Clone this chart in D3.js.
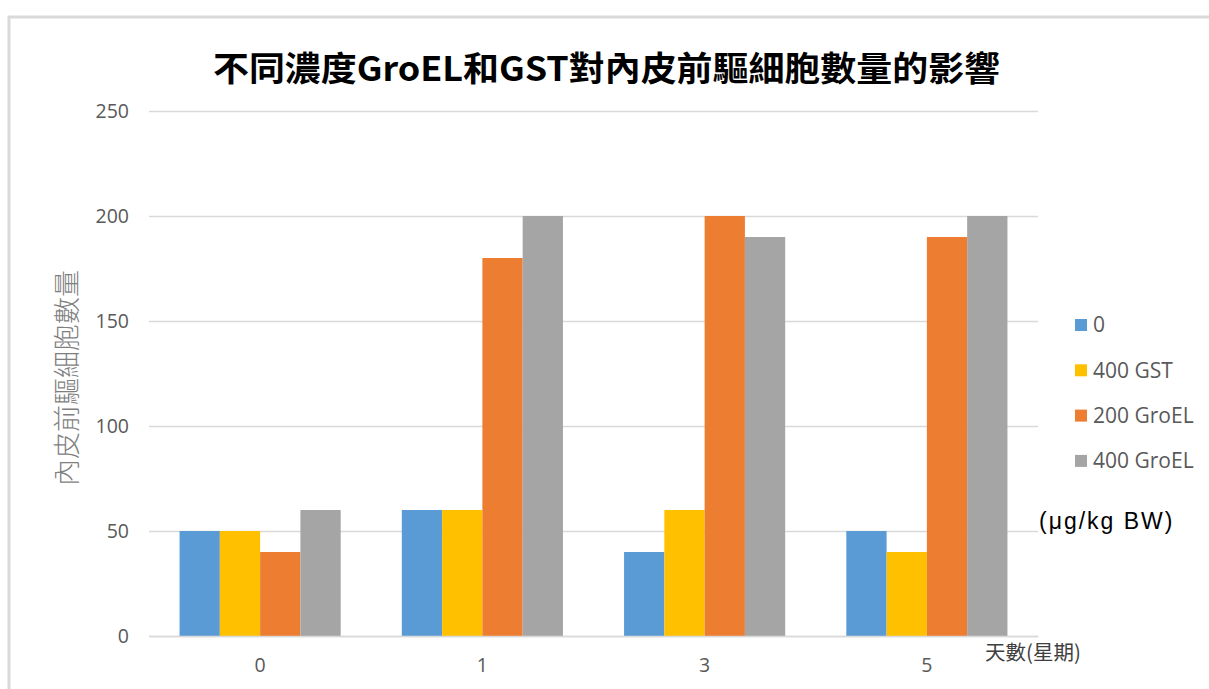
<!DOCTYPE html>
<html><head><meta charset="utf-8">
<script src="https://cdn.jsdelivr.net/npm/d3@7"></script>
<style>body{margin:0;background:#fff;} svg{display:block;}</style>
</head><body>
<script>
const categories = ["0", "1", "3", "5"];
const seriesNames = ["0", "400 GST", "200 GroEL", "400 GroEL"];
const seriesColors = ["#5B9BD5", "#FFC000", "#ED7D31", "#A5A5A5"];
const values0 = [50, 60, 40, 50];
const values400GST = [50, 60, 60, 40];
const values200GroEL = [40, 180, 200, 190];
const values400GroEL = [60, 200, 190, 200];
const seriesValues = [values0, values400GST, values200GroEL, values400GroEL];
const yTicks = [0, 50, 100, 150, 200, 250];
const titleText = "不同濃度GroEL和GST對內皮前驅細胞數量的影響";
const yTitle = "內皮前驅細胞數量";
const xTitle = "天數(星期)";
const unitText = "(μg/kg BW)";

const W = 1209, H = 689;
const svg = d3.select("body").append("svg").attr("width", W).attr("height", H);

// frame
svg.append("line").attr("x1", 8).attr("x2", W).attr("y1", 17).attr("y2", 17)
  .attr("stroke", "#d9d9d9").attr("stroke-width", 3);
svg.append("line").attr("x1", 9).attr("x2", 9).attr("y1", 16).attr("y2", H)
  .attr("stroke", "#d9d9d9").attr("stroke-width", 3);

const plot = {left: 149, right: 1038, top: 111, bottom: 636};
const x = d3.scaleBand().domain(categories).range([plot.left, plot.right])
  .paddingInner(0.275).paddingOuter(0.1375);
const xs = d3.scaleBand().domain(d3.range(seriesNames.length)).range([0, x.bandwidth()]);
const y = d3.scaleLinear().domain([0, 250]).range([plot.bottom, plot.top]);

// gridlines
const yAxis = d3.axisLeft(y).tickValues(yTicks).tickSize(-(plot.right - plot.left)).tickPadding(20);
const gy = svg.append("g").attr("transform", `translate(${plot.left},0)`).call(yAxis);
gy.select(".domain").remove();
gy.selectAll(".tick line").attr("stroke", "#d9d9d9").attr("stroke-width", 1.3);
gy.selectAll(".tick text").attr("fill", "#595959").attr("font-family", "'Open Sans','Liberation Sans',sans-serif")
  .attr("font-size", 19.5);

// bars
seriesValues.forEach((vals, si) => {
  svg.append("g").selectAll("rect").data(vals).join("rect")
    .attr("x", (d, i) => x(categories[i]) + xs(si))
    .attr("width", xs.bandwidth())
    .attr("y", d => y(d))
    .attr("height", d => y(0) - y(d))
    .attr("fill", seriesColors[si]);
});

// x axis
const xAxis = d3.axisBottom(x).tickSize(0).tickPadding(22);
const gx = svg.append("g").attr("transform", `translate(0,${plot.bottom})`).call(xAxis);
gx.select(".domain").attr("stroke", "#d9d9d9").attr("stroke-width", 1.5);
gx.selectAll(".tick text").attr("fill", "#595959").attr("font-family", "'Open Sans','Liberation Sans',sans-serif")
  .attr("font-size", 19.5);

// title
svg.append("text").attr("x", 213).attr("y", 81)
  .attr("textLength", 787).attr("lengthAdjust", "spacingAndGlyphs")
  .attr("font-family", "'Noto Sans CJK TC','Noto Sans CJK SC',serif")
  .attr("font-weight", "bold").attr("font-size", 34).attr("fill", "#000")
  .text(titleText);

// y title
svg.append("text").attr("transform", "translate(77,378) rotate(-90)")
  .attr("text-anchor", "middle").attr("font-family", "'Noto Sans CJK TC',sans-serif")
  .attr("font-size", 27).attr("fill", "#7f7f7f").attr("font-weight", 300)
  .text(yTitle);

// x title
svg.append("text").attr("x", 985).attr("y", 660)
  .attr("font-family", "'Noto Sans CJK TC',sans-serif")
  .attr("font-size", 20.5).attr("fill", "#404040").text(xTitle);

// legend
const lg = svg.append("g");
seriesNames.forEach((n, i) => {
  const cy = 325 + i * 45.3;
  lg.append("rect").attr("x", 1075).attr("y", cy - 6).attr("width", 12).attr("height", 12)
    .attr("fill", seriesColors[i]);
  lg.append("text").attr("x", 1093).attr("y", cy).attr("dy", "0.35em")
    .attr("font-family", "'Open Sans','Liberation Sans',sans-serif").attr("font-size", 21)
    .attr("fill", "#595959").text(n);
});
svg.append("text").attr("x", 1039).attr("y", 529)
  .attr("font-family", "'Liberation Sans',Arial,sans-serif").attr("font-size", 23)
  .attr("letter-spacing", 2).attr("fill", "#000").text(unitText);
</script>
</body></html>
